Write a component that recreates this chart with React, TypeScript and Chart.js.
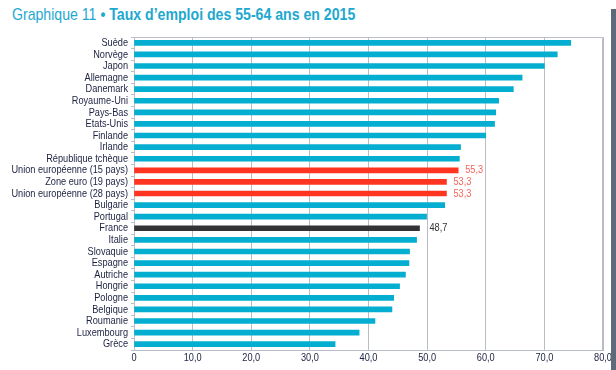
import React, { useEffect, useRef } from "react";
import { Chart, registerables } from "chart.js";

Chart.register(...registerables);

const categories = [
  "Suède",
  "Norvège",
  "Japon",
  "Allemagne",
  "Danemark",
  "Royaume-Uni",
  "Pays-Bas",
  "Etats-Unis",
  "Finlande",
  "Irlande",
  "République tchèque",
  "Union européenne (15 pays)",
  "Zone euro (19 pays)",
  "Union européenne (28 pays)",
  "Bulgarie",
  "Portugal",
  "France",
  "Italie",
  "Slovaquie",
  "Espagne",
  "Autriche",
  "Hongrie",
  "Pologne",
  "Belgique",
  "Roumanie",
  "Luxembourg",
  "Grèce",
];

const values = [
  74.5, 72.2, 70.0, 66.2, 64.7, 62.2, 61.7, 61.5, 60.0, 55.7, 55.5, 55.3, 53.3,
  53.3, 53.0, 49.9, 48.7, 48.2, 47.0, 46.9, 46.3, 45.3, 44.3, 44.0, 41.1, 38.4,
  34.3,
];

const xTickValues = [0, 10, 20, 30, 40, 50, 60, 70, 80];

const euAggregates = [
  "Union européenne (15 pays)",
  "Zone euro (19 pays)",
  "Union européenne (28 pays)",
];
const focusCountry = "France";

const titleNumber = "Graphique 11";
const titleText = "Taux d’emploi des 55-64 ans en 2015";

const FONT =
  "'Liberation Sans Narrow', 'Arial Narrow', 'Liberation Sans', Arial, sans-serif";
const CONDENSE = 0.8;

const CYAN = "#04AED0";
const RED = "#FF3522";
const DARK = "#333336";
const GRID = "#B9BEC6";
const TEXT = "#1C2140";

const fmt = (v: number) => (v === 0 ? "0" : v.toFixed(1).replace(".", ","));

function drawText(
  ctx: CanvasRenderingContext2D,
  text: string,
  x: number,
  y: number,
  align: CanvasTextAlign,
  baseline: CanvasTextBaseline
) {
  ctx.save();
  ctx.translate(x, y);
  ctx.scale(CONDENSE, 1);
  ctx.textAlign = align;
  ctx.textBaseline = baseline;
  ctx.fillText(text, 0, 0);
  ctx.restore();
}

export default function App() {
  const ref = useRef<HTMLCanvasElement | null>(null);

  useEffect(() => {
    if (!ref.current) return;
    const colors = categories.map((c) =>
      euAggregates.includes(c) ? RED : c === focusCountry ? DARK : CYAN
    );

    const labelsPlugin = {
      id: "condensedLabels",
      afterDraw(chart: any) {
        const ctx: CanvasRenderingContext2D = chart.ctx;
        const xs = chart.scales.x;
        const ys = chart.scales.y;
        const meta = chart.getDatasetMeta(0);
        ctx.save();
        ctx.font = `11.5px ${FONT}`;
        ctx.fillStyle = TEXT;
        categories.forEach((c, i) => {
          const y = ys.getPixelForValue(i);
          drawText(ctx, c, ys.right - 6, y, "right", "middle");
        });
        xTickValues.forEach((v) => {
          const x = xs.getPixelForValue(v);
          drawText(ctx, fmt(v), x, xs.top + 2, "center", "top");
        });
        categories.forEach((c, i) => {
          const isEU = euAggregates.includes(c);
          const isFocus = c === focusCountry;
          if (!isEU && !isFocus) return;
          const el = meta.data[i];
          ctx.fillStyle = isEU ? "#F4645C" : "#333333";
          drawText(ctx, fmt(values[i]), el.x + (isEU ? 7 : 10), el.y, "left", "middle");
        });
        const a = chart.chartArea;
        ctx.strokeStyle = GRID;
        ctx.lineWidth = 1;
        ctx.beginPath();
        ctx.moveTo(Math.round(a.left) + 0.5, Math.round(a.top) + 0.5);
        ctx.lineTo(Math.round(a.right) - 0.5, Math.round(a.top) + 0.5);
        ctx.lineTo(Math.round(a.right) - 0.5, Math.round(a.bottom));
        ctx.stroke();
        ctx.restore();
      },
    };

    const chart = new Chart(ref.current, {
      type: "bar",
      data: {
        labels: categories,
        datasets: [
          {
            data: values,
            backgroundColor: colors,
            barThickness: 5,
            borderWidth: 0,
          },
        ],
      },
      options: {
        indexAxis: "y",
        responsive: false,
        animation: false,
        layout: { padding: { left: 0, top: 37, right: 13, bottom: 0 } },
        plugins: {
          legend: { display: false },
          tooltip: { enabled: false },
          title: { display: false },
        },
        scales: {
          x: {
            type: "linear",
            min: 0,
            max: 80,
            afterBuildTicks: (scale: any) => {
              scale.ticks = xTickValues.map((v) => ({ value: v }));
            },
            afterFit: (scale: any) => {
              scale.height = 20;
            },
            ticks: { display: false },
            grid: {
              color: GRID,
              lineWidth: 1,
              drawTicks: false,
            },
            border: { color: GRID, width: 1 },
          },
          y: {
            afterFit: (scale: any) => {
              scale.width = 134;
            },
            ticks: { display: false, autoSkip: false },
            grid: {
              drawOnChartArea: false,
              color: GRID,
              tickLength: 3,
            },
            border: { color: GRID, width: 1 },
          },
        },
      },
      plugins: [labelsPlugin],
    });
    return () => chart.destroy();
  }, []);

  return (
    <div
      style={{
        position: "absolute",
        left: 0,
        top: 0,
        width: 616,
        height: 370,
        background: "#ffffff",
        overflow: "hidden",
      }}
    >
      <div
        style={{
          position: "absolute",
          left: 12,
          top: 5,
          fontFamily: FONT,
          fontSize: 17,
          lineHeight: "19px",
          color: "#1DA8D0",
          whiteSpace: "nowrap",
          transform: "scaleX(0.83)",
          transformOrigin: "0 0",
        }}
      >
        <span>{titleNumber}</span>
        <span style={{ fontWeight: "bold" }}> • {titleText}</span>
      </div>
      <canvas
        ref={ref}
        width={616}
        height={370}
        style={{ position: "absolute", left: 0, top: 0 }}
      />
      <div
        style={{
          position: "absolute",
          left: 611,
          top: 9,
          width: 5,
          height: 361,
          background: "#5B6B79",
        }}
      />
    </div>
  );
}
